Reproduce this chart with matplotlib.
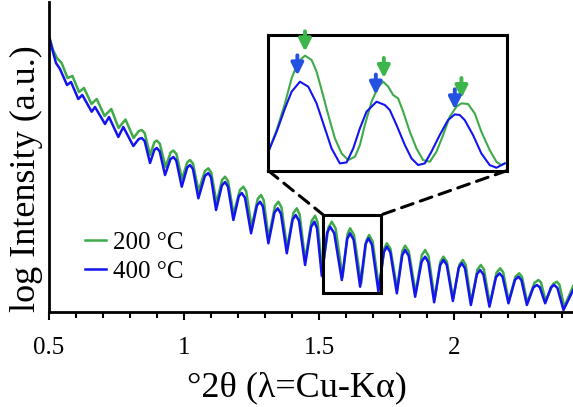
import matplotlib
matplotlib.use("Agg")
import matplotlib.pyplot as plt
from matplotlib.patches import Rectangle, ConnectionPatch

plt.rcParams['font.family'] = ['Liberation Serif', 'DejaVu Serif']

# XRR scans: deg 2theta and log intensity (a.u.), fringe shoulders/maxima/minima
two_theta_200 = [0.5019, 0.5148, 0.5296, 0.5470, 0.5685, 0.5870, 0.6111, 0.6296, 0.6574, 0.6767,
                 0.7056, 0.7307, 0.7574, 0.7833, 0.8130,
                 0.8327, 0.8433, 0.8541, 0.8741, 0.8902, 0.8989, 0.9103, 0.9315,
                 0.9503, 0.9604, 0.9717, 0.9926, 1.0118, 1.0222, 1.0332, 1.0537,
                 1.0773, 1.0900, 1.1006, 1.1204, 1.1409, 1.1519, 1.1629, 1.1833,
                 1.2069, 1.2196, 1.2302, 1.2500, 1.2729, 1.2852, 1.2949, 1.3130,
                 1.3366, 1.3493, 1.3606, 1.3815, 1.4048, 1.4174, 1.4281, 1.4481,
                 1.4722, 1.4852, 1.4943, 1.5111, 1.5344, 1.5470, 1.5610, 1.5870,
                 1.6051, 1.6148, 1.6291, 1.6556, 1.6748, 1.6852, 1.6982, 1.7222,
                 1.7407, 1.7507, 1.7641, 1.7889, 1.8081, 1.8185, 1.8321, 1.8574,
                 1.8803, 1.8926, 1.9049, 1.9278, 1.9490, 1.9604, 1.9730, 1.9963,
                 2.0196, 2.0322, 2.0430, 2.0630, 2.0863, 2.0989, 2.1106, 2.1322,
                 2.1570, 2.1704, 2.1814, 2.2019, 2.2271, 2.2407, 2.2511, 2.2704,
                 2.2976, 2.3122, 2.3215, 2.3389, 2.3659, 2.3804, 2.3899, 2.4074,
                 2.4407]
log_i_200 = [2.74, 2.62, 2.54, 2.49, 2.34, 2.36, 2.20, 2.24, 2.08, 2.13,
             1.96, 2.03, 1.84, 1.925, 1.74,
             1.810, 1.82, 1.790, 1.57, 1.698, 1.715, 1.683, 1.45,
             1.595, 1.615, 1.581, 1.33, 1.497, 1.52, 1.483, 1.21,
             1.410, 1.437, 1.395, 1.09, 1.321, 1.353, 1.308, 0.98,
             1.220, 1.253, 1.205, 0.85, 1.132, 1.17, 1.118, 0.74,
             1.059, 1.103, 1.047, 0.64, 0.989, 1.037, 0.975, 0.52,
             0.910, 0.963, 0.897, 0.41, 0.844, 0.903, 0.837, 0.35,
             0.779, 0.837, 0.771, 0.285, 0.712, 0.77, 0.705, 0.23,
             0.632, 0.687, 0.632, 0.23, 0.611, 0.663, 0.606, 0.19,
             0.568, 0.62, 0.561, 0.13, 0.502, 0.553, 0.503, 0.135,
             0.474, 0.52, 0.469, 0.095, 0.425, 0.47, 0.423, 0.08,
             0.394, 0.437, 0.398, 0.11, 0.354, 0.387, 0.352, 0.095,
             0.293, 0.32, 0.295, 0.11, 0.280, 0.303, 0.273, 0.05,
             0.26]

two_theta_400 = [0.5019, 0.5148, 0.5259, 0.5407, 0.5667, 0.5815, 0.6085, 0.6233, 0.6581, 0.6704,
                 0.7074, 0.7222, 0.7567, 0.7752, 0.8122,
                 0.8324, 0.8433, 0.8541, 0.8741, 0.8902, 0.8989, 0.9096, 0.9296,
                 0.9496, 0.9604, 0.9713, 0.9915, 1.0115, 1.0222, 1.0330, 1.0530,
                 1.0770, 1.0900, 1.1000, 1.1185, 1.1402, 1.1519, 1.1626, 1.1826,
                 1.2028, 1.2137, 1.2257, 1.2481, 1.2698, 1.2815, 1.2922, 1.3122,
                 1.3348, 1.3470, 1.3587, 1.3804, 1.4020, 1.4137, 1.4257, 1.4481,
                 1.4705, 1.4826, 1.4922, 1.5100, 1.5300, 1.5407, 1.5559, 1.5841,
                 1.6041, 1.6148, 1.6278, 1.6519, 1.6719, 1.6826, 1.6956, 1.7196,
                 1.7398, 1.7507, 1.7637, 1.7878, 1.8078, 1.8185, 1.8315, 1.8556,
                 1.8796, 1.8926, 1.9043, 1.9259, 1.9483, 1.9604, 1.9726, 1.9952,
                 2.0168, 2.0285, 2.0402, 2.0619, 2.0843, 2.0963, 2.1083, 2.1307,
                 2.1548, 2.1678, 2.1795, 2.2011, 2.2251, 2.2381, 2.2490, 2.2693,
                 2.2933, 2.3063, 2.3170, 2.3370, 2.3587, 2.3704, 2.3824, 2.4048,
                 2.4407]
log_i_400 = [2.74, 2.60, 2.49, 2.43, 2.27, 2.30, 2.13, 2.17, 2.003, 2.05,
             1.88, 1.95, 1.75, 1.85, 1.66,
             1.730, 1.74, 1.710, 1.49, 1.622, 1.64, 1.608, 1.37,
             1.528, 1.55, 1.514, 1.253, 1.444, 1.47, 1.430, 1.137,
             1.360, 1.39, 1.346, 1.02, 1.266, 1.30, 1.254, 0.92,
             1.158, 1.19, 1.142, 0.787, 1.065, 1.103, 1.053, 0.687,
             0.995, 1.037, 0.983, 0.587, 0.924, 0.97, 0.910, 0.47,
             0.851, 0.903, 0.838, 0.36, 0.794, 0.853, 0.789, 0.32,
             0.731, 0.787, 0.723, 0.253, 0.679, 0.737, 0.673, 0.203,
             0.599, 0.653, 0.597, 0.187, 0.568, 0.62, 0.564, 0.153,
             0.505, 0.553, 0.498, 0.097, 0.469, 0.52, 0.471, 0.11,
             0.442, 0.487, 0.437, 0.07, 0.378, 0.42, 0.376, 0.053,
             0.347, 0.387, 0.351, 0.087, 0.321, 0.353, 0.319, 0.07,
             0.246, 0.27, 0.248, 0.087, 0.248, 0.27, 0.24, 0.02,
             0.22]

# close-up of three fringes (1.52-1.73 deg)
zoom_tt_200 = [1.5160, 1.5234, 1.5308, 1.5367, 1.5426, 1.5486, 1.5545, 1.5589, 1.5634, 1.5693,
               1.5752, 1.5811, 1.5870, 1.5930, 1.5974, 1.6018, 1.6078, 1.6137, 1.6181, 1.6226,
               1.6270, 1.6314, 1.6359, 1.6418, 1.6477, 1.6536, 1.6596, 1.6655, 1.6714, 1.6773,
               1.6832, 1.6877, 1.6936, 1.6995, 1.7054, 1.7128, 1.7188, 1.7232, 1.7262]
zoom_i_200 = [0.3827, 0.5002, 0.6448, 0.7803, 0.8706, 0.9032, 0.8797, 0.8164, 0.7170, 0.5815,
              0.4550, 0.3737, 0.3376, 0.3557, 0.4189, 0.5273, 0.6538, 0.7351, 0.7622, 0.7351,
              0.6899, 0.6719, 0.5996, 0.4912, 0.4008, 0.3376, 0.3285, 0.3827, 0.4731, 0.5725,
              0.6267, 0.6448, 0.6412, 0.5906, 0.4912, 0.3918, 0.3285, 0.3105, 0.3195]
zoom_tt_400 = [1.5160, 1.5234, 1.5308, 1.5367, 1.5441, 1.5515, 1.5589, 1.5663, 1.5722, 1.5796,
               1.5856, 1.5915, 1.5974, 1.6033, 1.6122, 1.6196, 1.6240, 1.6300, 1.6374, 1.6433,
               1.6492, 1.6551, 1.6610, 1.6684, 1.6758, 1.6818, 1.6862, 1.6906, 1.6980, 1.7054,
               1.7128, 1.7188, 1.7262]
zoom_i_400 = [0.3827, 0.4912, 0.6177, 0.7080, 0.7622, 0.7351, 0.6448, 0.5092, 0.4008, 0.3195,
              0.3249, 0.4008, 0.5092, 0.5996, 0.6538, 0.6357, 0.6086, 0.5273, 0.4189, 0.3466,
              0.3105, 0.3195, 0.3827, 0.4731, 0.5544, 0.5851, 0.5815, 0.5544, 0.4731, 0.3737,
              0.3105, 0.2960, 0.3195]

# arrows marking the fringe maxima in the close-up
arrow_x_200 = [1.5486, 1.6187, 1.6877]
arrow_tip_200 = [0.910, 0.766, 0.657]
arrow_x_400 = [1.5418, 1.6116, 1.6818]
arrow_tip_400 = [0.780, 0.676, 0.596]

green = '#3faa4a'
blue = '#1414ee'

fig = plt.figure(figsize=(5.73, 4.07), dpi=100)
ax = fig.add_axes([0.0855, 0.2334, 0.9145, 0.7617])

ax.plot(two_theta_200, log_i_200, color=green, lw=1.8, label='200 °C')
ax.plot(two_theta_400, log_i_400, color=blue, lw=1.8, label='400 °C')

ax.set_xlim(0.5, 2.44)
ax.set_ylim(0, 3.1)
ax.set_xticks([0.5, 1, 1.5, 2])
ax.set_xticklabels(['0.5', '1', '1.5', '2'])
ax.set_xticks([0.6, 0.7, 0.8, 0.9, 1.1, 1.2, 1.3, 1.4, 1.6, 1.7, 1.8, 1.9, 2.1, 2.2, 2.3, 2.4], minor=True)
ax.set_yticks([])
ax.tick_params(axis='x', which='major', direction='out', length=6, width=1.5, labelsize=18, pad=12)
ax.tick_params(axis='x', which='minor', direction='out', length=4, width=1.5)
for side in ['top', 'right']:
    ax.spines[side].set_visible(False)
for side in ['left', 'bottom']:
    ax.spines[side].set_linewidth(2)

ax.set_xlabel('°2θ (λ=Cu-Kα)', fontsize=26)
ax.xaxis.set_label_coords(0.473, -0.19)
ax.set_ylabel('log Intensity (a.u.)', fontsize=26)
ax.yaxis.set_label_coords(-0.012, 0.43)

ax.legend(loc='upper left', bbox_to_anchor=(0.069, 0.26), frameon=False, fontsize=18,
          handlelength=0.85, handletextpad=0.25, borderpad=0, borderaxespad=0, labelspacing=0.25)

# box around the zoomed range
x0, x1 = 1.516, 1.728
y0, y1 = 0.187, 0.97
ax.add_patch(Rectangle((x0, y0), x1 - x0, y1 - y0, fill=False, ec='black', lw=2.2, zorder=5))

ins = fig.add_axes([0.4683, 0.5806, 0.4161, 0.3334])
ins.plot(zoom_tt_200, zoom_i_200, color=green, lw=1.5)
ins.plot(zoom_tt_400, zoom_i_400, color=blue, lw=1.5)
ins.set_xlim(x0, x1)
ins.set_ylim(0.28, 1.015)
ins.set_xticks([])
ins.set_yticks([])
for sp in ins.spines.values():
    sp.set_linewidth(2.2)

for xa, ya in zip(arrow_x_200, arrow_tip_200):
    ins.annotate('', xy=(xa, ya), xytext=(xa, ya + 0.14),
                 arrowprops=dict(arrowstyle='-|>', color='#3cb54a', lw=2.8, mutation_scale=18))
for xa, ya in zip(arrow_x_400, arrow_tip_400):
    ins.annotate('', xy=(xa, ya), xytext=(xa, ya + 0.14),
                 arrowprops=dict(arrowstyle='-|>', color='#2452e0', lw=2.8, mutation_scale=18))

# dashed leaders from the box to the close-up
for xa, xb in [(0, x0), (1, x1)]:
    con = ConnectionPatch(xyA=(xa, 0), coordsA=ins.transAxes, xyB=(xb, y1), coordsB=ax.transData,
                          color='black', lw=2.2, ls=(0, (4, 2.5)))
    fig.add_artist(con)

fig.savefig('out.png', dpi=100)
